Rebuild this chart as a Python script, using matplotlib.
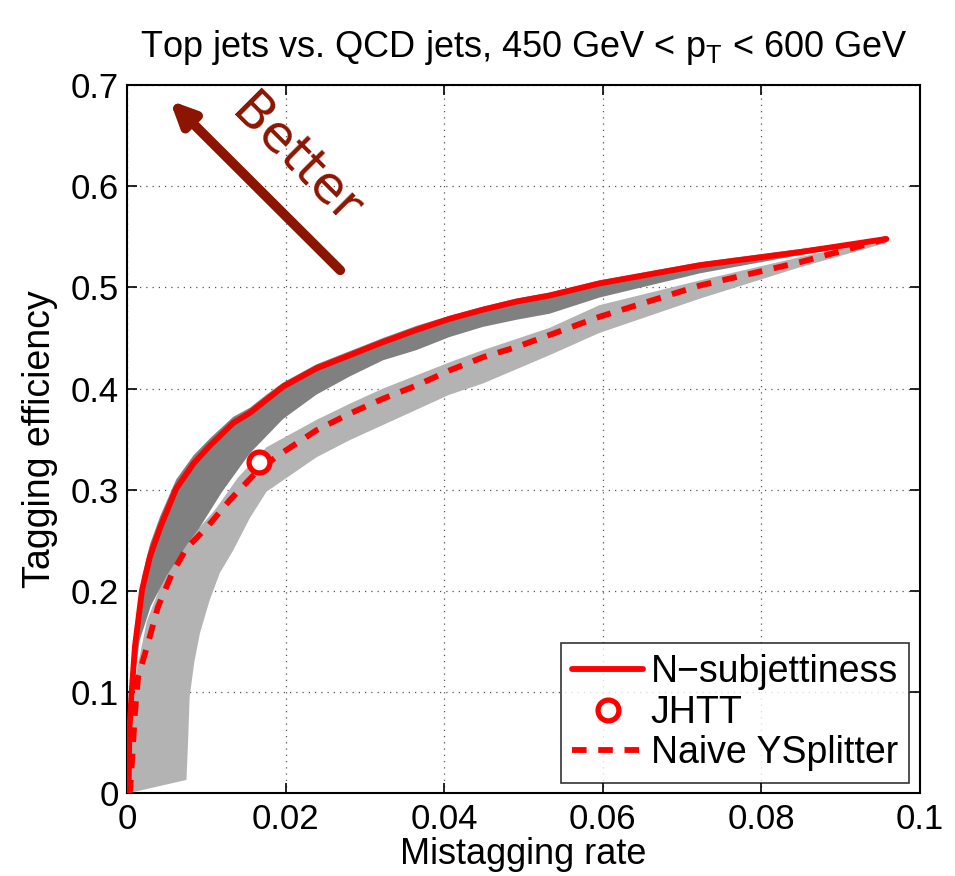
import numpy as np
import matplotlib
matplotlib.use("Agg")
import matplotlib.pyplot as plt

# N-subjettiness curve (solid)
ns_x = [0, 0.0002, 0.0003, 0.0006, 0.001, 0.0019, 0.0029, 0.0042, 0.0062, 0.0084, 0.0105,
        0.0134, 0.0155, 0.0176, 0.0197, 0.0239, 0.0281, 0.0323, 0.0365, 0.0407, 0.0449,
        0.0491, 0.0533, 0.0596, 0.0723, 0.0849, 0.0958]
ns_y = [0, 0.003, 0.062, 0.101, 0.145, 0.201, 0.234, 0.263, 0.301, 0.326, 0.344,
        0.366, 0.376, 0.389, 0.402, 0.420, 0.433, 0.446, 0.458, 0.469, 0.478,
        0.486, 0.492, 0.504, 0.522, 0.535, 0.548]

# dark band (N-subjettiness variations)
dark_top_y = [0, 0.006, 0.075, 0.118, 0.160, 0.214, 0.246, 0.274, 0.310, 0.334, 0.351,
              0.372, 0.381, 0.394, 0.406, 0.424, 0.437, 0.450, 0.462, 0.472, 0.481,
              0.489, 0.495, 0.507, 0.525, 0.538, 0.549]
dark_low_x = [0, 0.0003, 0.0016, 0.003, 0.005, 0.0075, 0.0092, 0.012, 0.0155, 0.0197,
              0.0239, 0.0281, 0.0323, 0.0365, 0.0407, 0.0449, 0.0491, 0.0533, 0.0596,
              0.0723, 0.0849, 0.0958]
dark_low_y = [0, 0.08, 0.151, 0.185, 0.215, 0.245, 0.263, 0.298, 0.336, 0.370,
              0.394, 0.412, 0.428, 0.438, 0.451, 0.461, 0.468, 0.474, 0.490,
              0.514, 0.532, 0.548]

# light band (YSplitter variations)
light_top_x = [0.0003, 0.0006, 0.0012, 0.0025, 0.0045, 0.0070, 0.0092, 0.0113, 0.0140,
               0.0176, 0.0239, 0.0281, 0.0323, 0.0365, 0.0407, 0.0449, 0.0491, 0.0533,
               0.0596, 0.0723, 0.0849, 0.0958]
light_top_y = [0.0, 0.06, 0.12, 0.17, 0.21, 0.245, 0.263, 0.282, 0.312,
               0.342, 0.369, 0.385, 0.400, 0.413, 0.426, 0.438, 0.449, 0.460,
               0.4825, 0.507, 0.530, 0.548]
light_low_x = [0.0003, 0.0075, 0.0077, 0.0079, 0.0085, 0.0092, 0.0104, 0.0117, 0.0134,
               0.0155, 0.0176, 0.0239, 0.0281, 0.0323, 0.0365, 0.0407, 0.0449, 0.0491,
               0.0533, 0.0596, 0.0723, 0.0849, 0.0958]
light_low_y = [0.0, 0.013, 0.05, 0.095, 0.13, 0.158, 0.19, 0.2175, 0.240,
               0.272, 0.298, 0.332, 0.349, 0.364, 0.379, 0.394, 0.405, 0.419,
               0.433, 0.455, 0.489, 0.520, 0.544]

# Naive YSplitter (dashed)
ys_x = [0, 0.0004, 0.001, 0.0014, 0.0025, 0.0039, 0.0057, 0.0075, 0.0101, 0.013, 0.0164,
        0.0189, 0.0239, 0.0281, 0.0323, 0.0365, 0.0407, 0.0449, 0.0491, 0.0596, 0.0723,
        0.0849, 0.0958]
ys_y = [0, 0.003, 0.079, 0.115, 0.144, 0.184, 0.2175, 0.242, 0.263, 0.290, 0.318,
        0.333, 0.3588, 0.3753, 0.390, 0.403, 0.418, 0.431, 0.441, 0.471, 0.502,
        0.525, 0.548]

# JHTT working point
jhtt_x = [0.0166]
jhtt_y = [0.327]

xticks = [0, 0.02, 0.04, 0.06, 0.08, 0.1]
xticklabels = ['0', '0.02', '0.04', '0.06', '0.08', '0.1']
yticks = [0, 0.1, 0.2, 0.3, 0.4, 0.5, 0.6, 0.7]
yticklabels = ['0', '0.1', '0.2', '0.3', '0.4', '0.5', '0.6', '0.7']

plt.rcParams['font.family'] = ['Liberation Sans', 'DejaVu Sans']
plt.rcParams['mathtext.fontset'] = 'custom'
plt.rcParams['mathtext.rm'] = 'Liberation Sans'

fig = plt.figure(figsize=(9.55, 8.76), dpi=100)
ax = fig.add_axes([0.133, 0.0947, 0.830, 0.808])

# bands
ax.fill(np.concatenate([light_top_x, light_low_x[::-1]]),
        np.concatenate([light_top_y, light_low_y[::-1]]),
        color='#b3b3b3', lw=0, zorder=2)
ax.fill(np.concatenate([ns_x, dark_low_x[::-1]]),
        np.concatenate([dark_top_y, dark_low_y[::-1]]),
        color='#808080', lw=0, zorder=3)

ax.plot(ns_x, ns_y, color='#ff0000', lw=4.2, zorder=5, label='N\u2212subjettiness',
        solid_capstyle='round')
ax.plot(jhtt_x, jhtt_y, 'o', color='#ff0000', mfc='white', mec='#ff0000', ms=15,
        mew=3.8, zorder=6, label='JHTT')
ax.plot(ys_x, ys_y, color='#ff0000', lw=4.2, ls=(0, (2.5, 2.0)), zorder=5,
        label='Naive YSplitter')

ax.set_xlim(0, 0.1)
ax.set_ylim(0, 0.7)
ax.set_xticks(xticks)
ax.set_xticklabels(xticklabels, fontsize=25)
ax.set_yticks(yticks)
ax.set_yticklabels(yticklabels, fontsize=25)
ax.tick_params(direction='in', length=7, width=1.2, top=True, right=True)
ax.tick_params(axis='x', pad=7)
ax.tick_params(axis='y', pad=6)
ax.grid(True, ls=(0, (1, 4)), color='#555555', lw=0.9)
for s in ax.spines.values():
    s.set_linewidth(1.5)

ax.set_xlabel('Mistagging rate', fontsize=26, labelpad=1)
ax.set_ylabel('Tagging efficiency', fontsize=27, labelpad=9)
ax.set_title(r'Top jets vs. QCD jets, 450 GeV < $\mathregular{p_T}$ < 600 GeV',
             fontsize=26, pad=20)

# "Better" arrow
ax.annotate('', xy=(0.0054, 0.685), xytext=(0.0269, 0.517),
            arrowprops=dict(arrowstyle='-|>,head_length=1.4,head_width=0.65',
                            color='#8b1500', lw=7, shrinkA=0, shrinkB=0), zorder=7)
ax.text(0.0213, 0.626, 'Better', rotation=-45, color='#8b1500', fontsize=37,
        fontfamily='DejaVu Sans', ha='center', va='center', zorder=7,
        rotation_mode='anchor')

leg = ax.legend(loc='lower right', fontsize=27, frameon=True, fancybox=False,
                edgecolor='black', handlelength=1.9, borderaxespad=0.28,
                labelspacing=0.12, handletextpad=0.2, borderpad=0.3)
leg.get_frame().set_linewidth(1.2)
leg.set_zorder(10)

fig.savefig('out.png', dpi=100)
